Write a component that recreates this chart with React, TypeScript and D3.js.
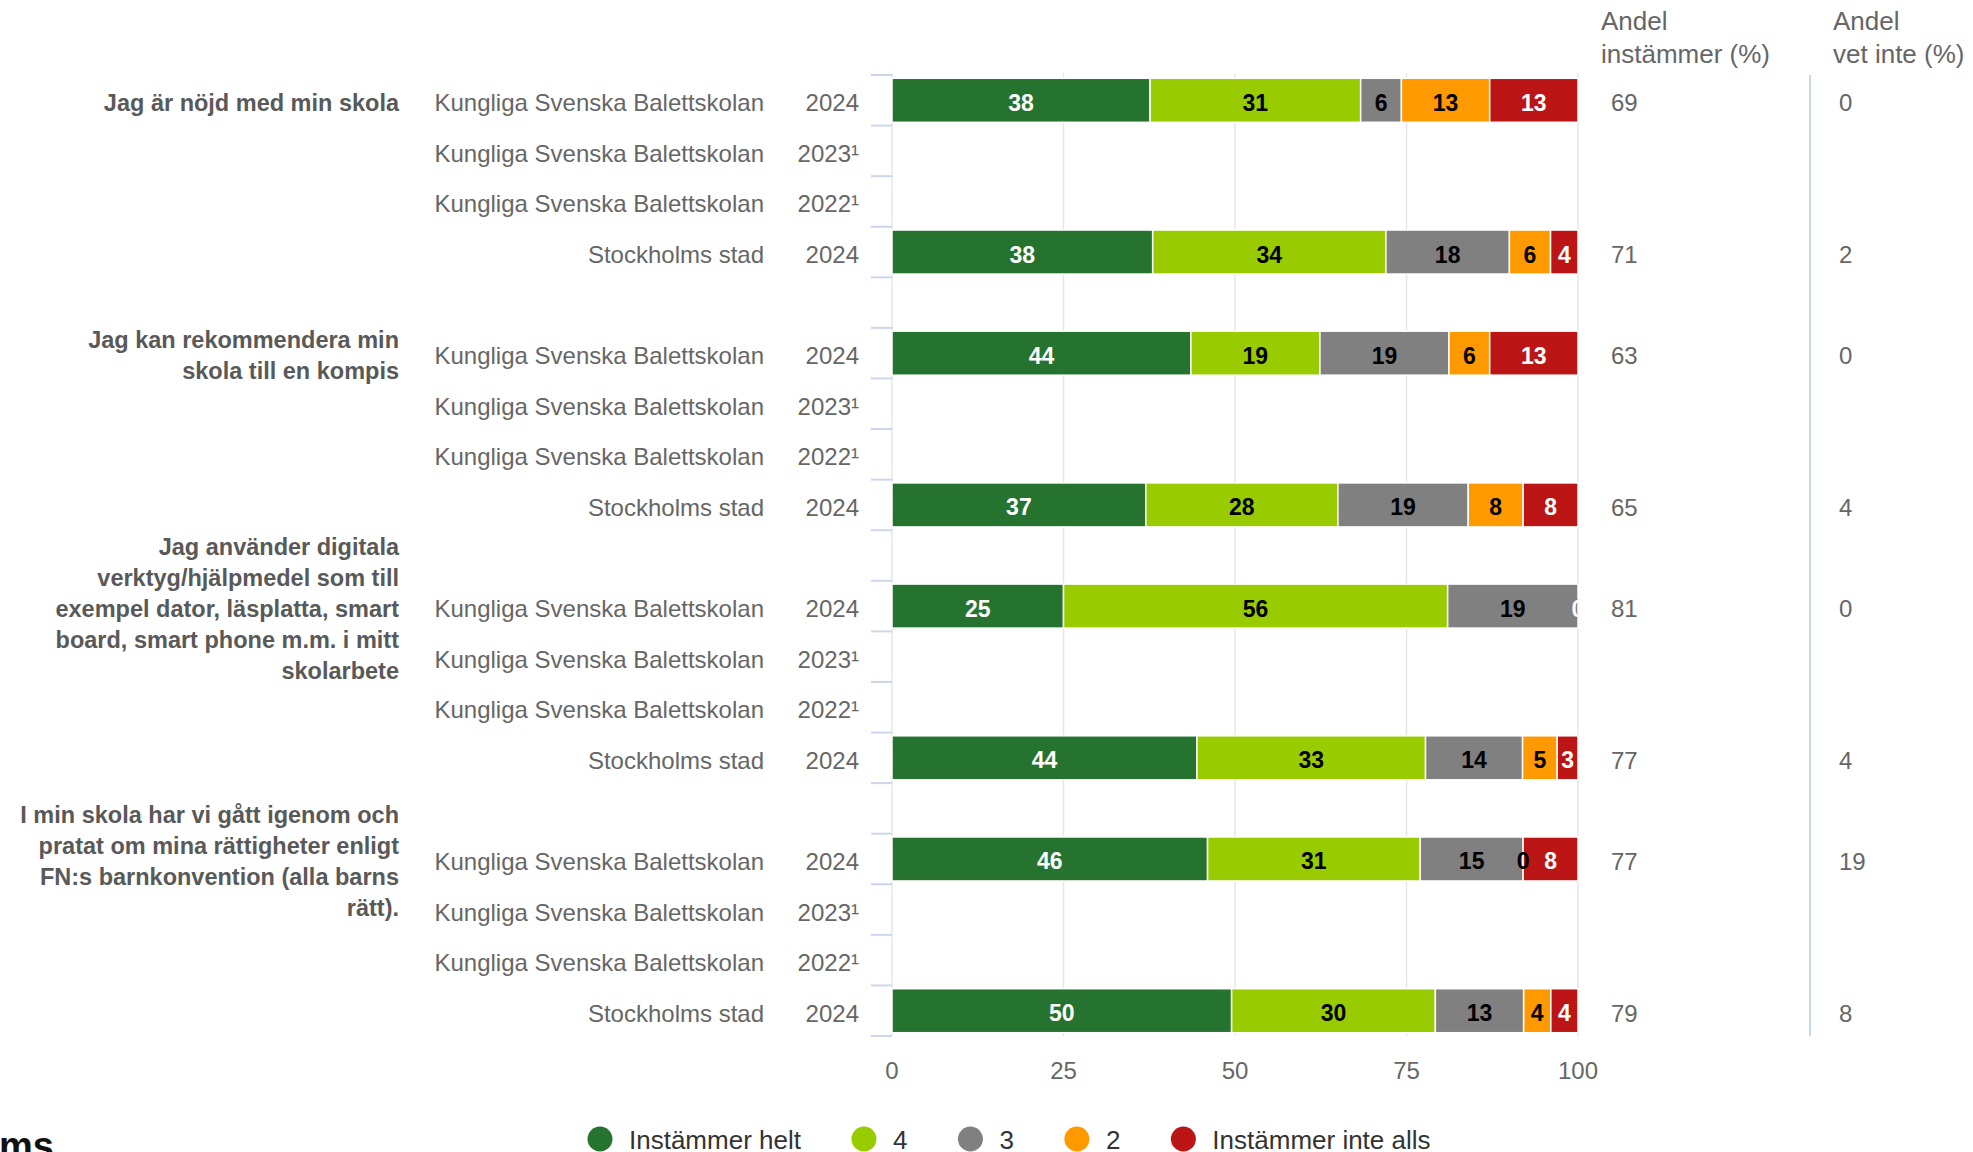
import React, { useEffect, useRef } from 'react';
import * as d3 from 'd3';

const questions: string[][] = [
  ['Jag är nöjd med min skola'],
  ['Jag kan rekommendera min', 'skola till en kompis'],
  ['Jag använder digitala', 'verktyg/hjälpmedel som till', 'exempel dator, läsplatta, smart', 'board, smart phone m.m. i mitt', 'skolarbete'],
  ['I min skola har vi gått igenom och', 'pratat om mina rättigheter enligt', 'FN:s barnkonvention (alla barns', 'rätt).'],
];

const rowUnits = ['Kungliga Svenska Balettskolan', 'Kungliga Svenska Balettskolan', 'Kungliga Svenska Balettskolan', 'Stockholms stad'];
const rowYears = ['2024', '2023¹', '2022¹', '2024'];

const seriesNames = ['Instämmer helt', '4', '3', '2', 'Instämmer inte alls'];
const seriesColors = ['#25732f', '#99cc00', '#808080', '#ff9900', '#bb1515'];
const labelColors = ['#ffffff', '#000000', '#000000', '#000000', '#ffffff'];

// one entry per question row (4 rows per question), null = no data
const helt = [38, null, null, 38, 44, null, null, 37, 25, null, null, 44, 46, null, null, 50];
const fyra = [31, null, null, 34, 19, null, null, 28, 56, null, null, 33, 31, null, null, 30];
const tre = [6, null, null, 18, 19, null, null, 19, 19, null, null, 14, 15, null, null, 13];
const tva = [13, null, null, 6, 6, null, null, 8, 0, null, null, 5, 0, null, null, 4];
const inteAlls = [13, null, null, 4, 13, null, null, 8, 0, null, null, 3, 8, null, null, 4];

const andelInstammer = [69, null, null, 71, 63, null, null, 65, 81, null, null, 77, 77, null, null, 79];
const andelVetInte = [0, null, null, 2, 0, null, null, 4, 0, null, null, 4, 19, null, null, 8];

const xTicks = [0, 25, 50, 75, 100];

const FONT = '"Liberation Sans", Arial, Helvetica, sans-serif';

export default function App() {
  const svgRef = useRef<SVGSVGElement>(null);

  useEffect(() => {
    if (!svgRef.current) return;
    const width = 1973;
    const height = 1152;
    const svg = d3.select(svgRef.current);
    svg.selectAll('*').remove();

    // row ids incl. empty gap rows between the questions
    const rowIds: string[] = [];
    questions.forEach((_, g) => {
      for (let r = 0; r < 4; r++) rowIds.push(`r${g * 4 + r}`);
      if (g < questions.length - 1) rowIds.push(`gap${g}`);
    });

    const x = d3.scaleLinear().domain([0, 100]).range([892, 1578]);
    const y = d3.scaleBand<string>().domain(rowIds).range([75, 1036]).paddingInner(0.13).paddingOuter(0.065);
    const step = y.step();
    const rowTop = (id: string) => y(id)! - (step - y.bandwidth()) / 2;
    const rowMid = (id: string) => y(id)! + y.bandwidth() / 2;
    const textMid = (id: string) => rowMid(id) + 2.5;

    // gridlines
    svg.append('g').selectAll('line').data(xTicks).join('line')
      .attr('x1', d => x(d)).attr('x2', d => x(d))
      .attr('y1', 73).attr('y2', 1036)
      .attr('stroke', '#e6e6e6').attr('stroke-width', 1.5);

    // category ticks
    const bounds = rowIds.map(rowTop).concat([rowTop(rowIds[rowIds.length - 1]) + step]);
    svg.append('g').selectAll('line').data(bounds).join('line')
      .attr('x1', 871).attr('x2', 892)
      .attr('y1', d => d).attr('y2', d => d)
      .attr('stroke', '#ccd6eb').attr('stroke-width', 2);

    // x axis labels
    svg.append('g').selectAll('text').data(xTicks).join('text')
      .attr('x', d => x(d)).attr('y', 1070)
      .attr('text-anchor', 'middle').attr('dominant-baseline', 'central')
      .attr('font-family', FONT).attr('font-size', 24).attr('fill', '#666')
      .text(d => d);

    // question labels
    questions.forEach((lines, g) => {
      const cy = textMid(`r${g * 4}`);
      const lh = 31;
      svg.append('text')
        .attr('font-family', FONT).attr('font-size', 23.5).attr('font-weight', 'bold')
        .attr('fill', '#595959').attr('text-anchor', 'end')
        .selectAll('tspan').data(lines).join('tspan')
        .attr('x', 399)
        .attr('y', (_, i) => cy - ((lines.length - 1) * lh) / 2 + i * lh)
        .attr('dominant-baseline', 'central')
        .text(d => d);
    });

    // row labels
    const dataRows = d3.range(helt.length);
    svg.append('g').selectAll('text').data(dataRows).join('text')
      .attr('x', 764).attr('y', i => textMid(`r${i}`))
      .attr('text-anchor', 'end').attr('dominant-baseline', 'central')
      .attr('font-family', FONT).attr('font-size', 24).attr('fill', '#666')
      .text(i => rowUnits[i % 4]);
    svg.append('g').selectAll('text').data(dataRows).join('text')
      .attr('x', 859).attr('y', i => textMid(`r${i}`))
      .attr('text-anchor', 'end').attr('dominant-baseline', 'central')
      .attr('font-family', FONT).attr('font-size', 24).attr('fill', '#666')
      .text(i => rowYears[i % 4]);

    // stacked bars (percent)
    const values = [helt, fyra, tre, tva, inteAlls];
    const table = dataRows.filter(i => helt[i] != null).map(i => {
      const o: any = { id: `r${i}` };
      seriesNames.forEach((s, k) => { o[s] = values[k][i] as number; });
      return o;
    });
    const stacked = d3.stack<any>().keys(seriesNames).offset(d3.stackOffsetExpand)(table);

    svg.append('defs').append('clipPath').attr('id', 'plotClip')
      .append('rect').attr('x', 880).attr('y', 60).attr('width', x(100) - 880).attr('height', 1000);

    stacked.forEach((layer, k) => {
      svg.append('g').selectAll('rect').data(layer).join('rect')
        .attr('x', d => x(d[0] * 100))
        .attr('width', d => Math.max(0, x(d[1] * 100) - x(d[0] * 100)))
        .attr('y', d => y(d.data.id)!)
        .attr('height', y.bandwidth())
        .attr('fill', seriesColors[k])
        .attr('stroke', '#fff').attr('stroke-width', 1.5);
    });

    const labels = svg.append('g').attr('clip-path', 'url(#plotClip)');
    stacked.forEach((layer, k) => {
      const next = stacked[k + 1];
      labels.append('g').selectAll('text')
        .data(layer.filter((d, j) => {
          // hide a label that would sit exactly on the next one
          if (!next) return true;
          const n = next[j];
          return !(d[1] - d[0] === 0 && n[1] - n[0] === 0);
        }))
        .join('text')
        .attr('x', d => x(((d[0] + d[1]) / 2) * 100))
        .attr('y', d => textMid(d.data.id))
        .attr('text-anchor', 'middle').attr('dominant-baseline', 'central')
        .attr('font-family', FONT).attr('font-size', 23).attr('font-weight', 'bold')
        .attr('fill', labelColors[k])
        .attr('stroke', d => (d[1] - d[0] === 0 && labelColors[k] === '#ffffff') ? '#777' : 'none')
        .attr('stroke-width', 0.8).attr('paint-order', 'stroke')
        .text(d => d.data[seriesNames[k]]);
    });

    // side columns
    const colHeads = [
      { x: 1601, lines: ['Andel', 'instämmer (%)'], vx: 1611, vals: andelInstammer },
      { x: 1833, lines: ['Andel', 'vet inte (%)'], vx: 1839, vals: andelVetInte },
    ];
    colHeads.forEach(c => {
      svg.append('text')
        .attr('font-family', FONT).attr('font-size', 26).attr('fill', '#666')
        .selectAll('tspan').data(c.lines).join('tspan')
        .attr('x', c.x).attr('y', (_, i) => 30 + i * 33)
        .text(d => d);
      svg.append('g').selectAll('text').data(dataRows.filter(i => c.vals[i] != null)).join('text')
        .attr('x', c.vx).attr('y', i => textMid(`r${i}`))
        .attr('dominant-baseline', 'central')
        .attr('font-family', FONT).attr('font-size', 24).attr('fill', '#666')
        .text(i => c.vals[i] as number);
    });
    svg.append('line')
      .attr('x1', 1810).attr('x2', 1810).attr('y1', 75).attr('y2', 1036)
      .attr('stroke', '#ccd6eb').attr('stroke-width', 2);

    // legend
    let lx = 600;
    const legend = svg.append('g');
    seriesNames.forEach((s, k) => {
      legend.append('circle').attr('cx', lx).attr('cy', 1139).attr('r', 12.5).attr('fill', seriesColors[k]);
      const t = legend.append('text')
        .attr('x', lx + 29).attr('y', 1140)
        .attr('dominant-baseline', 'central')
        .attr('font-family', FONT).attr('font-size', 26).attr('fill', '#333')
        .text(s);
      const w = (t.node() as SVGTextElement).getComputedTextLength();
      lx = lx + 29 + w + 63;
    });

    // cut-off logo text bottom left
    svg.append('text')
      .attr('x', -1).attr('y', 1159)
      .attr('font-family', FONT).attr('font-size', 38).attr('font-weight', 'bold').attr('fill', '#111')
      .text('ms');

    svg.attr('width', width).attr('height', height);
  }, []);

  return (
    <svg
      ref={svgRef}
      width={1973}
      height={1152}
      style={{ position: 'absolute', left: 0, top: 0, background: '#fff', overflow: 'hidden' }}
    />
  );
}
